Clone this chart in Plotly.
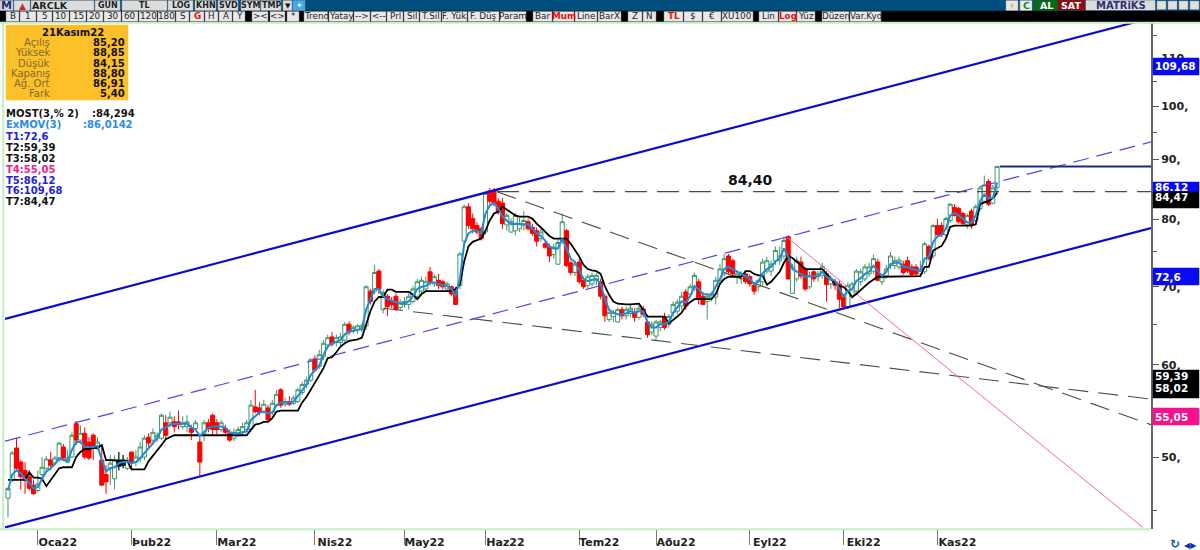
import math
import plotly.graph_objects as go

# ARCLK gunluk mum verileri
open_p = [46.1,47.8,50.9,49.5,48.7,48.1,47.3,46.8,48.3,48.9,
    49.7,49.4,49.7,51.0,49.5,50.0,53.4,51.7,52.4,51.5,
    52.2,50.9,49.7,48.3,48.9,47.9,49.1,49.2,48.9,50.5,
    49.5,49.9,50.0,52.0,51.7,51.9,51.9,53.5,53.5,53.6,
    53.6,53.1,53.1,52.9,52.9,51.5,52.4,53.5,54.3,53.5,
    52.8,52.9,52.4,51.9,52.2,52.5,52.8,52.8,55.2,55.1,
    54.7,55.1,54.6,55.4,57.1,55.5,55.8,55.6,55.8,56.8,
    57.7,58.2,60.7,59.8,61.0,62.4,63.4,62.7,62.7,63.0,
    65.0,64.1,64.3,64.3,64.8,69.4,69.4,72.2,66.9,68.7,
    68.0,68.7,67.2,67.6,67.6,68.0,68.7,69.4,69.7,72.1,
    70.4,70.9,70.7,69.7,70.0,69.4,70.2,76.6,82.0,80.1,
    79.0,78.5,78.0,84.6,84.7,82.9,82.6,79.1,78.0,78.2,
    78.5,79.1,79.6,78.7,78.2,77.0,76.2,75.7,74.6,73.2,
    76.7,78.2,73.4,72.0,73.5,70.9,70.2,70.4,70.9,70.7,
    68.7,65.6,66.0,65.3,66.9,66.1,66.4,66.5,65.9,67.0,
    65.3,64.0,63.5,64.6,66.0,65.0,66.5,66.7,67.4,69.3,
    69.0,69.7,70.7,68.7,68.0,68.6,68.6,70.9,71.8,74.4,
    73.7,71.4,71.1,71.8,71.4,70.2,70.0,70.7,72.2,72.2,
    73.7,73.7,74.4,77.3,69.1,71.1,73.5,72.5,70.0,72.1,
    71.4,71.6,71.8,70.4,70.7,70.4,68.6,67.3,68.7,69.4,
    70.7,71.1,71.8,72.2,73.5,70.7,71.5,73.0,73.0,72.8,
    73.2,73.7,72.8,72.8,71.8,72.1,75.8,74.4,79.0,79.0,
    77.6,79.8,81.9,81.7,80.9,79.1,81.3,79.8,81.7,82.9,
    86.2,82.6,85.20]
high_p = [47.0,50.6,51.9,49.7,49.5,48.7,47.8,48.7,50.0,50.1,
    50.5,50.1,51.5,51.3,50.7,52.5,53.7,53.2,53.0,52.0,
    52.4,52.0,51.2,49.2,50.2,50.2,50.5,50.2,50.0,50.5,
    50.7,51.5,52.2,52.4,52.9,52.5,54.5,54.3,54.7,54.2,
    54.8,54.2,54.3,53.3,53.8,52.0,53.8,53.9,54.5,53.9,
    53.8,53.3,52.8,52.9,53.1,53.5,53.8,56.0,57.1,55.7,
    56.0,55.4,56.0,57.1,57.3,56.2,56.4,56.5,57.3,58.0,
    58.6,60.8,61.1,61.8,63.0,63.7,64.0,63.7,63.9,65.3,
    65.4,64.9,65.0,65.1,70.2,69.7,73.1,72.5,69.6,69.0,
    68.6,69.1,68.3,68.6,69.1,70.1,71.1,71.4,71.4,72.8,
    71.7,71.8,71.0,70.7,70.2,70.0,75.0,82.4,82.6,80.9,
    79.5,78.8,84.6,85.1,85.1,83.4,83.4,81.0,80.1,81.0,
    80.4,81.3,80.1,79.3,78.7,78.5,76.7,76.2,76.2,77.0,
    80.9,78.5,73.7,73.7,74.0,71.1,71.8,72.0,72.0,71.1,
    69.0,66.9,66.9,67.2,67.3,67.3,67.6,67.1,67.7,67.4,
    65.6,65.4,65.6,65.6,66.5,66.3,68.0,68.3,69.3,69.7,
    70.4,72.0,71.1,69.3,69.0,69.3,71.4,73.2,74.7,74.7,
    74.0,72.2,72.2,72.2,71.7,70.6,71.1,74.0,74.3,73.7,
    75.8,75.8,77.3,77.5,73.2,74.3,74.3,72.8,72.1,72.5,
    72.2,73.4,72.2,71.6,71.1,70.9,69.0,70.6,70.7,72.5,
    72.5,73.2,73.4,74.6,74.0,71.8,73.1,75.0,74.3,74.3,
    73.7,74.3,73.2,73.2,73.7,76.5,76.1,79.3,80.1,79.5,
    80.4,82.6,82.4,82.0,81.2,80.9,81.7,82.4,85.4,87.2,
    86.6,85.6,88.85]
low_p = [44.4,47.6,48.6,46.9,46.5,46.8,46.4,46.6,48.0,48.7,
    48.7,49.2,49.5,49.6,49.4,49.9,51.2,51.5,49.8,49.7,
    49.7,50.7,47.2,46.5,47.3,46.9,48.7,48.9,48.7,48.9,
    49.1,49.5,49.7,50.9,51.2,51.5,51.7,51.7,53.0,52.5,
    52.8,52.8,52.5,51.7,52.8,48.1,51.6,52.5,52.2,52.3,
    52.5,52.3,51.5,51.6,52.0,52.2,52.5,52.5,54.5,54.3,
    54.5,53.7,54.3,55.2,55.1,55.2,55.3,55.4,55.6,56.5,
    57.3,58.0,59.2,59.5,60.6,62.0,62.2,62.2,62.2,62.7,
    63.6,63.8,63.8,64.0,64.3,67.6,69.0,69.0,66.4,66.1,
    67.1,66.8,66.8,67.2,66.9,67.7,68.3,69.0,69.3,70.2,
    70.0,69.7,69.6,69.3,68.7,67.5,69.7,76.2,78.5,77.8,
    77.6,76.7,77.6,82.4,82.1,80.7,78.5,78.2,77.9,77.5,
    78.0,78.2,78.2,77.4,75.8,76.5,75.5,73.5,74.0,73.1,
    76.2,72.8,71.6,71.5,70.4,69.7,69.8,70.0,70.2,68.3,
    65.3,65.3,65.3,65.2,65.6,65.6,65.9,65.3,65.6,65.9,
    63.3,63.6,63.0,64.1,64.3,64.6,66.0,66.3,66.9,66.9,
    68.7,69.4,67.6,67.5,65.6,68.0,67.6,70.4,71.4,71.8,
    71.5,70.4,70.4,70.4,70.0,68.9,69.4,70.2,71.8,71.5,
    73.1,73.1,73.9,71.0,69.0,70.7,71.1,69.4,69.7,70.7,
    70.7,71.1,68.0,69.7,69.6,67.1,67.0,67.0,68.3,69.0,
    70.2,70.7,71.4,71.8,70.8,70.2,71.1,72.5,72.5,72.4,
    71.7,71.9,71.4,71.5,71.5,71.8,73.7,74.0,77.2,77.2,
    77.2,79.4,80.4,79.3,79.1,78.5,78.5,79.4,81.3,82.6,
    82.1,82.4,84.15]
close_p = [47.0,50.4,48.9,48.1,47.8,47.0,46.5,47.4,49.0,49.8,
    49.2,49.9,51.4,49.9,49.9,52.2,51.7,52.4,50.0,49.9,
    50.9,51.5,47.3,47.6,49.4,49.7,49.7,49.7,49.7,49.5,
    50.0,51.0,51.9,51.4,52.5,52.2,54.3,52.2,54.1,53.1,
    53.3,53.5,53.6,52.5,53.5,49.5,53.5,52.9,52.8,52.8,
    53.5,52.5,51.7,52.5,52.8,53.1,53.5,55.4,54.7,54.6,
    55.5,53.8,55.6,56.6,55.4,55.8,55.5,56.2,57.1,57.7,
    58.2,60.6,59.4,61.2,62.6,63.3,62.5,63.3,63.4,65.0,
    64.0,64.6,64.8,64.8,70.0,68.0,72.0,69.7,69.2,67.3,
    67.6,66.9,67.9,68.0,68.7,69.7,70.7,70.9,70.7,70.7,
    71.4,70.2,70.0,70.4,69.0,67.6,74.7,82.0,79.0,78.5,
    78.0,77.0,84.2,82.9,82.6,81.2,79.3,80.6,79.6,80.6,
    79.3,79.8,78.5,77.8,76.6,78.0,75.7,74.4,75.7,76.4,
    79.6,73.0,72.0,73.2,70.7,70.0,71.4,71.6,71.6,68.7,
    66.1,66.5,66.5,66.9,66.1,66.9,67.1,65.9,67.1,66.3,
    63.7,65.0,65.3,65.3,64.6,66.0,67.6,67.9,68.7,67.4,
    70.0,71.6,68.3,67.6,68.7,69.0,70.9,72.5,74.0,72.1,
    71.8,71.8,71.8,70.7,70.4,69.4,70.9,73.5,73.7,73.2,
    75.2,74.4,76.7,71.1,72.8,73.7,71.5,69.7,71.6,71.1,
    71.8,72.9,70.3,71.1,70.2,68.3,67.3,70.2,70.4,72.2,
    72.1,72.8,72.8,74.0,70.9,71.4,72.5,74.4,73.7,73.8,
    72.0,72.2,71.7,71.8,72.5,76.2,74.0,79.0,77.6,77.6,
    80.1,82.4,80.6,79.6,79.3,80.6,79.1,82.0,85.1,85.6,
    82.4,85.1,88.80]

# ExMOV(3) mavi cizgi
ema_p = [46.8,48.3,48.7,48.4,47.9,47.5,47.0,47.1,47.9,48.6,
    48.9,49.3,49.9,49.7,49.6,50.7,51.5,51.5,51.0,51.0,
    51.0,51.1,49.7,48.6,48.9,49.0,49.4,49.5,49.5,49.4,
    49.5,49.9,50.4,50.9,51.4,51.9,52.8,53.0,53.3,53.4,
    53.4,53.4,53.4,53.0,52.8,52.1,52.5,53.0,53.1,53.1,
    53.1,53.0,52.5,52.4,52.4,52.5,52.6,53.8,54.2,54.6,
    54.7,54.5,54.6,55.4,55.7,55.7,55.7,55.8,56.4,57.1,
    57.7,58.8,59.4,59.9,61.2,62.2,62.6,62.8,63.0,63.7,
    64.1,64.2,64.3,64.4,66.9,68.3,69.7,69.7,68.7,68.3,
    68.1,67.9,67.7,67.7,68.0,68.7,69.7,70.0,70.1,70.6,
    70.6,70.4,70.3,70.1,69.7,68.7,71.1,76.2,77.8,78.2,
    78.2,77.8,80.9,82.2,82.6,81.7,80.4,79.8,79.2,79.3,
    79.2,79.2,79.2,78.5,77.8,77.4,76.7,75.8,75.5,75.5,
    77.0,75.5,74.0,73.5,72.2,71.1,70.8,71.0,71.1,70.4,
    68.3,66.9,66.5,66.3,66.3,66.4,66.7,66.5,66.7,66.7,
    65.3,64.6,64.6,65.0,65.0,65.3,66.5,67.2,68.0,67.9,
    68.7,70.1,69.7,69.0,69.0,68.9,70.0,71.1,72.5,72.8,
    72.5,72.2,71.9,71.5,71.1,70.4,70.7,71.9,72.5,72.8,
    73.6,74.0,75.5,74.3,72.5,72.2,71.8,71.4,71.4,71.5,
    71.5,72.1,71.4,71.1,70.8,69.7,68.7,69.4,69.7,70.8,
    71.2,71.8,72.1,73.0,72.2,71.5,72.1,73.2,73.4,73.4,
    72.8,72.8,72.5,72.3,72.2,74.0,74.3,76.5,77.3,77.6,
    78.5,80.6,81.0,80.6,80.1,79.5,79.5,80.6,82.9,84.0,
    83.4,83.4,86.01]

# MOST(3,% 2) siyah cizgi
most_p = [47.8,47.8,47.8,47.8,47.8,48.5,48.0,48.0,47.9,47.2,
    47.8,48.3,48.9,49.0,49.0,49.0,50.0,50.5,50.8,50.8,
    50.9,50.9,51.2,49.7,49.7,49.7,49.6,49.6,49.6,48.8,
    48.8,48.8,48.8,49.6,50.1,50.7,51.2,51.8,52.0,52.2,
    52.2,52.2,52.2,52.2,52.2,52.2,52.2,52.2,52.2,52.2,
    52.2,52.2,52.2,52.2,52.2,52.2,52.2,52.8,53.3,53.4,
    53.6,53.6,54.0,54.7,54.8,54.8,54.8,54.8,54.8,55.7,
    56.3,57.1,57.9,58.7,59.6,60.8,60.9,61.5,62.2,62.6,
    62.9,63.0,63.1,63.3,65.0,66.7,68.0,68.6,68.6,69.6,
    69.6,69.3,69.3,69.3,69.3,68.9,68.3,69.0,69.4,69.4,
    69.4,69.4,69.4,69.4,69.4,69.7,70.3,73.6,75.8,76.5,
    76.8,77.0,78.2,79.8,80.9,81.2,82.0,81.5,81.0,80.6,
    80.4,80.4,80.4,80.1,79.3,78.7,78.0,77.4,77.0,77.0,
    77.0,77.0,76.2,75.3,74.3,73.1,72.5,72.3,72.2,71.8,
    70.1,68.9,68.0,67.7,67.6,67.6,67.6,67.6,67.7,66.9,
    66.0,66.0,66.0,66.0,66.0,65.1,65.5,66.0,66.5,67.4,
    67.9,68.3,68.3,68.3,68.3,68.3,69.0,70.4,71.1,71.4,
    71.4,71.4,71.4,72.2,72.2,71.8,71.6,71.6,70.3,70.7,
    71.4,72.1,73.4,74.4,74.1,73.6,73.1,72.5,72.5,72.5,
    72.5,72.5,71.8,71.1,70.4,70.1,70.0,69.4,68.6,69.0,
    69.6,70.1,70.6,71.0,71.4,71.4,71.4,71.4,71.4,71.4,
    71.4,71.4,71.4,71.4,71.5,72.8,72.8,75.2,75.5,75.9,
    77.0,78.8,79.0,79.0,79.0,79.0,79.0,79.2,82.4,82.7,
    82.9,83.4,84.294]

bar_index = list(range(len(close_p)))
dark_bars = [26, 27]

# x ekseni ay etiketleri
month_ticks = [7, 29, 49, 72, 93, 112, 134, 152, 174, 196, 218]
month_labels = ["Oca22", "Þub22", "Mar22", "Nis22", "May22", "Haz22",
                "Tem22", "Aðu22", "Eyl22", "Eki22", "Kas22"]

# y ekseni
price_ticks = [50, 60, 70, 80, 90, 100, 110]
price_labels = ["50,", "60,", "70,", "80,", "90,", "100,", "110,"]
minor_prices = [45, 55, 65, 75, 85, 95, 105, 115]

# trend cizgileri
chan_top_x, chan_top_y = [-0.7, 265.5], [65.7, 118.4]
chan_mid_x, chan_mid_y = [-0.7, 268.1], [51.6, 93.2]
chan_low_x, chan_low_y = [-0.7, 268.1], [43.5, 78.6]
flat_x, flat_y = [114.7, 268.1], [84.47, 84.47]
last_x, last_y = [232.7, 268.1], [88.8, 88.8]
fall_a_x, fall_a_y = [114.7, 268.1], [84.47, 53.3]
fall_b_x, fall_b_y = [88.0, 268.1], [67.1, 56.07]
pink_x, pink_y = [182.7, 266.2], [77.2, 43.5]

W, H = 1200, 550
L, R, T, B = 5, 1151, 23, 529

def fx(px):
    return (px - L) / (R - L)

def fy(py):
    return (B - py) / (B - T)

GREEN = "#3f9668"
RED = "#ff0000"
NAVY = "#0a0ad6"
GREY_DASH = "#4a4a4a"
FONT = "DejaVu Sans"

fig = go.Figure()
fig.add_trace(go.Candlestick(
    x=bar_index, open=open_p, high=high_p, low=low_p, close=close_p,
    increasing=dict(line=dict(color=GREEN, width=1), fillcolor="white"),
    decreasing=dict(line=dict(color=RED, width=1), fillcolor=RED),
    whiskerwidth=0,
))
fig.add_trace(go.Candlestick(
    x=dark_bars,
    open=[open_p[i] for i in dark_bars], high=[high_p[i] for i in dark_bars],
    low=[low_p[i] for i in dark_bars], close=[close_p[i] for i in dark_bars],
    increasing=dict(line=dict(color="#111", width=1), fillcolor="#111"),
    decreasing=dict(line=dict(color="#111", width=1), fillcolor="#111"),
    whiskerwidth=0,
))

def add_line(xs, ys, color, width, dash="solid"):
    fig.add_trace(go.Scatter(x=xs, y=ys, mode="lines",
                             line=dict(color=color, width=width, dash=dash)))

add_line(chan_top_x, chan_top_y, NAVY, 2.2)
add_line(chan_low_x, chan_low_y, NAVY, 2.2)
add_line(chan_mid_x, chan_mid_y, "#4a4ae6", 1.2, "16px,8px")
add_line(flat_x, flat_y, GREY_DASH, 1.2, "22px,10px")
add_line(fall_a_x, fall_a_y, GREY_DASH, 1.1, "20px,10px")
add_line(fall_b_x, fall_b_y, GREY_DASH, 1.1, "20px,10px")
add_line(pink_x, pink_y, "#f266a8", 1)
add_line(last_x, last_y, "#1c2a80", 2)
add_line(bar_index, most_p, "#000000", 1.8)
add_line(bar_index, ema_p, "#1f8ad8", 2)

annotations = []
shapes = []

def rect(x0, x1, y0, y1, fill, line=None):
    shapes.append(dict(type="rect", xref="paper", yref="paper", layer="above",
                       x0=fx(x0), x1=fx(x1), y0=fy(y0), y1=fy(y1),
                       fillcolor=fill, line=dict(color=line or fill, width=0.5)))

def text(px, py, s, color="#000", size=10, bold=False, anchor="left"):
    annotations.append(dict(xref="paper", yref="paper", x=fx(px), y=fy(py),
                            text="<b>%s</b>" % s if bold else s, showarrow=False,
                            xanchor=anchor, yanchor="middle", xshift=0,
                            font=dict(family=FONT, size=size, color=color),
                            borderpad=0, borderwidth=0))

# cerceve ve ust bantlar
rect(0, W, 0, 11, "#00507f")
rect(0, W, 11, 22, "#000000")
rect(0, W, 22, 23.5, "#c5ecc5")
rect(2.5, 4, 22, 529, "#c5ecc5")
rect(0, R, 528.5, 530, "#c5ecc5")

row1 = [("", 0, 13, "#000"), ("", 14, 30, "#000"), ("ARCLK", 31, 94, "#222"), ("GUN", 95, 120, "#222"),
        ("TL", 122, 167, "#222"), ("LOG", 168, 193, "#222"), ("KHN", 195, 216, "#222"),
        ("SVD", 218, 238, "#222"), ("SYM", 241, 260, "#222"), ("TMP", 261, 281, "#222"),
        ("▼", 283, 292, "#111")]
for s, x0, x1, c in row1:
    rect(x0, x1, 0.5, 10.5, "#dcdcdc", "#9a9a9a")
    if s == "ARCLK":
        text(32, 6, s, c, 9.5, True)
    else:
        text((x0 + x1) / 2, 6, s, c, 8 if s != "▼" else 7, True, "center")
text(6, 6, "M", "#1c2a80", 11, True, "center")
text(22, 6, "▲", "#c03030", 9, True, "center")
rect(293, 305, 0.5, 10.5, "#4aa8e0")
text(299, 6, "✦", "white", 8, False, "center")

rect(1006, 1018, 0.5, 10.5, "#e8e8e8", "#999")
text(1012, 6, "⚡", "#e89020", 9, True, "center")
rect(1020, 1032, 0.5, 10.5, "#e8f0e8", "#999")
text(1026, 6, "C", "#108040", 9.5, True, "center")
rect(1034, 1058, 0.5, 10, "#0a6a14")
text(1046, 5.5, "AL", "white", 9.5, True, "center")
rect(1058, 1085, 0.5, 10, "#8a0c10")
text(1071, 5.5, "SAT", "white", 9.5, True, "center")
rect(1086, 1155, 0.5, 10, "#dcdcdc")
text(1121, 5.5, "MATRiKS", "#303070", 10, True, "center")
for x0 in (1157, 1168, 1179, 1190):
    rect(x0, x0 + 9, 1, 9.5, "#e0e0e0", "#999")

row2 = [("B", 6, 19), ("1", 20, 36), ("5", 37, 52), ("10", 53, 69), ("15", 70, 86), ("20", 87, 103),
        ("30", 104, 121), ("60", 122, 138), ("120", 139, 157), ("180", 158, 175), ("S", 176, 189),
        ("G", 190, 204), ("H", 205, 218), ("A", 219, 232), ("Y", 233, 245), ("&gt;&lt;", 252, 268),
        ("&lt;&gt;", 270, 285), ("*", 287, 299), ("Trend", 304, 328), ("Yatay", 329, 353),
        ("--&gt;", 354, 370), ("&lt;--", 371, 386), ("Prl", 387, 403), ("Sil", 404, 419),
        ("T.Sil", 420, 441), ("F. Yük", 442, 467), ("F. Düş", 468, 499), ("Param", 500, 526),
        ("Bar", 533, 552), ("Mum", 553, 574), ("Line", 575, 597), ("BarX", 598, 621),
        ("Z", 628, 642), ("N", 643, 656), ("TL", 664, 683), ("$", 684, 702), ("€", 703, 721),
        ("XU100", 722, 753), ("Lin", 759, 778), ("Log", 779, 796), ("Yüz", 797, 815),
        ("Düzen", 822, 849), ("Var.Kyd", 850, 881)]
red_labels = ["G", "Mum", "TL", "Log"]
for s, x0, x1 in row2:
    rect(x0, x1, 11.5, 21.5, "#e8e8e8", "#8a8a8a")
    red = s in red_labels
    text((x0 + x1) / 2, 16.5, s, "#e81010" if red else "#222", 8.8, red, "center")

# bilgi kutusu
rect(6, 128, 25, 100, "#fdc028")
text(73, 32, "21Kasım22", "#111", 10, True, "center")
info_names = ["Açılış", "Yüksek", "Düşük", "Kapanış", "Ağ. Ort", "Fark"]
info_values = ["85,20", "88,85", "84,15", "88,80", "86,91", "5,40"]
for k, (n, v) in enumerate(zip(info_names, info_values)):
    y = 42.5 + k * 10.3
    text(50, y, n, "#7c6a30", 10, False, "right")
    text(125, y, v, "#111", 10, True, "right")

text(5.5, 114, "MOST(3,% 2)", "#111", 10, True)
text(92, 114, ":84,294", "#111", 10, True)
text(5.5, 125, "ExMOV(3)", "#2a8ae8", 10, True)
text(83, 125, ":86,0142", "#2a8ae8", 10, True)
levels = [("T1:72,6", "#2222dd"), ("T2:59,39", "#111"), ("T3:58,02", "#111"), ("T4:55,05", "#f0208c"),
          ("T5:86,12", "#2222dd"), ("T6:109,68", "#2222dd"), ("T7:84,47", "#111")]
for k, (s, c) in enumerate(levels):
    text(5.5, 136 + k * 11, s, c, 10, True)

# sag eksen etiket kutulari
boxes = [("109,68", 58, 75, "#0a0af0"), ("86.12", 182, 192, "#0a0af0"), ("84,47", 192, 208, "#000"),
         ("72,6", 268, 285, "#0a0af0"), ("55,05", 408, 425, "#f8108c")]
for s, y0, y1, c in boxes:
    rect(1153, 1199, y0, y1, c)
    text(1155, (y0 + y1) / 2 if s != "84,47" else 197, s, "white", 10.5, True)
rect(1153, 1199, 370, 398, "#000")
text(1155, 376, "59,39", "white", 10.5, True)
text(1155, 388, "58,02", "white", 10.5, True)

text(750, 180, "84,40", "#111", 14, True, "center")

# sag alt kontroller
text(1175, 544, "↻", "#1060b0", 12, True, "center")
text(1190, 545, "◀▶", "#1030b0", 8, True, "center")

fig.update_layout(
    width=W, height=H,
    margin=dict(l=L, r=W - R, t=T, b=H - B, pad=0),
    paper_bgcolor="white", plot_bgcolor="white",
    showlegend=False,
    shapes=shapes, annotations=annotations,
    font=dict(family=FONT, size=11, color="#222"),
    hovermode=False,
    boxgap=0.05, boxgroupgap=0,
)
fig.update_xaxes(
    automargin=False,
    range=[-0.7, 268.1], rangeslider_visible=False,
    tickmode="array", tickvals=month_ticks, ticktext=month_labels,
    ticks="outside", ticklen=15, tickcolor="#777", tickwidth=1,
    tickfont=dict(family=FONT, size=11, color="#222", weight="bold"),
    ticklabelshift=20, ticklabelstandoff=-12,
    showgrid=False, zeroline=False, showline=False,
)
fig.update_yaxes(
    automargin=False,
    type="log", range=[math.log10(43.37), math.log10(117.9)],
    side="right", tickmode="array", tickvals=price_ticks, ticktext=price_labels,
    ticks="outside", ticklen=6, tickcolor="#555", tickwidth=1,
    minor=dict(tickmode="array", tickvals=minor_prices, ticks="outside", ticklen=4, tickcolor="#555"),
    tickfont=dict(family=FONT, size=11, color="#222", weight="bold"),
    showgrid=False, zeroline=False,
    showline=True, linecolor="#666", linewidth=2,
)

fig.write_html("out.html", config={"displayModeBar": False},
               post_script="document.body.style.margin='0';document.body.style.overflow='hidden';")
